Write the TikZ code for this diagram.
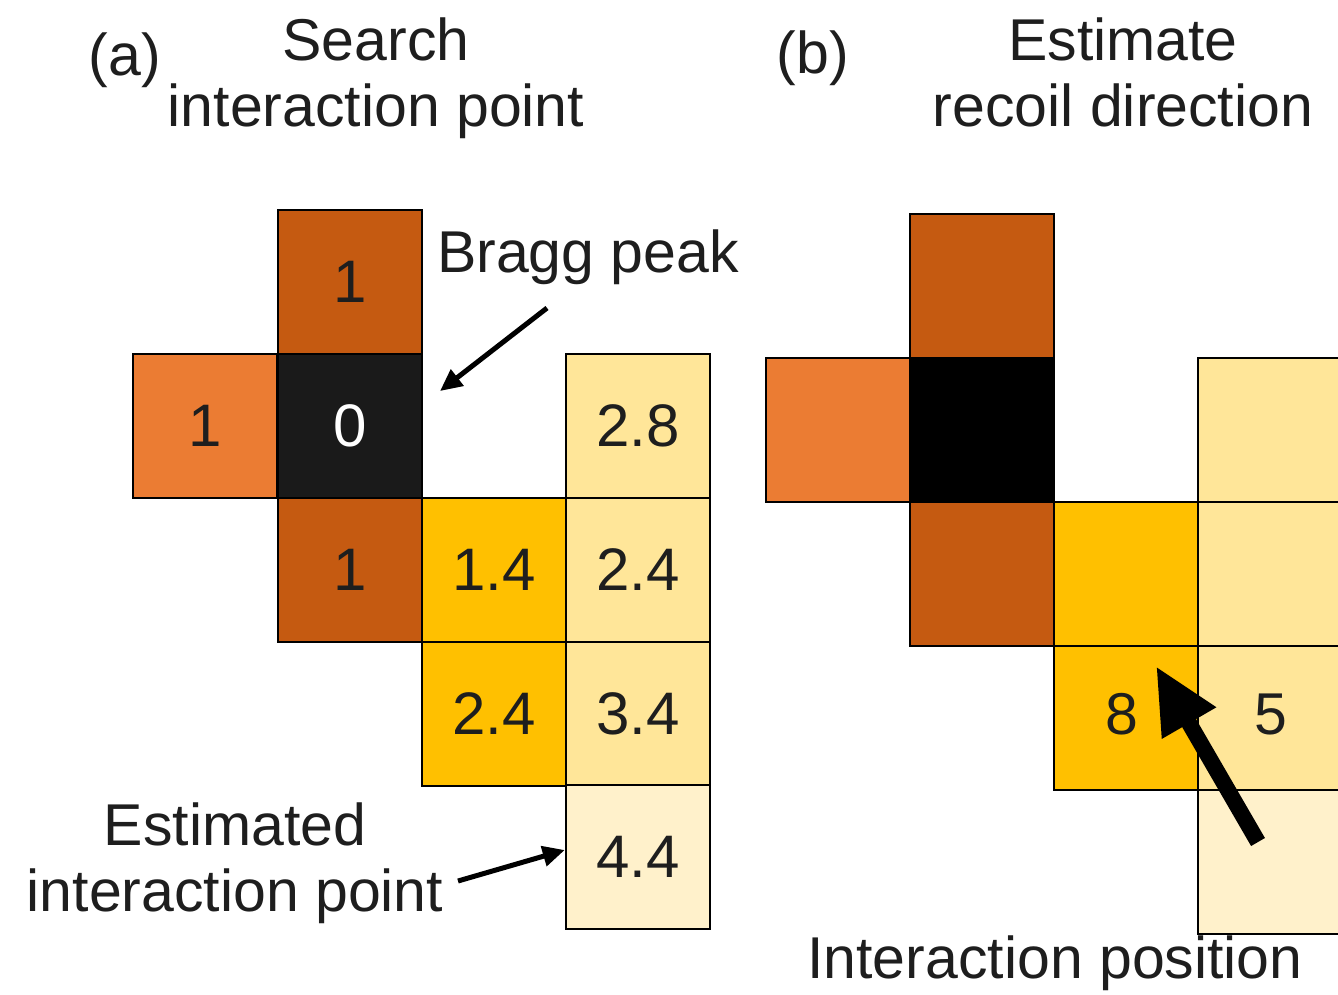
\documentclass[tikz,border=0pt]{standalone}
\usepackage{fontspec}
\setmainfont{Liberation Sans}
\usetikzlibrary{arrows.meta}
\definecolor{brownD}{HTML}{C55A11}
\definecolor{orangeC}{HTML}{EB7C33}
\definecolor{goldC}{HTML}{FFC000}
\definecolor{lightC}{HTML}{FFE699}
\definecolor{paleC}{HTML}{FFF1CB}
\definecolor{blackA}{HTML}{1A1A1A}
\definecolor{txt}{HTML}{1E1E1E}
\tikzset{
  cell/.style={draw=black, line width=2.5pt, minimum size=144pt, inner sep=0pt,
    text=txt, font=\fontsize{60}{66}\selectfont},
  lbl/.style={text=txt, font=\fontsize{59}{66}\selectfont, inner sep=0pt, anchor=base},
  thinarrow/.style={line width=5pt, draw=black, -{Triangle[length=22pt,width=20pt]}},
  bigarrow/.style={line width=16pt, draw=black, -{Triangle[length=66pt,width=58pt]}}
}
\begin{document}
\begin{tikzpicture}[x=1pt,y=-1pt]
\clip (0,0) rectangle (1338,994);
\fill[white] (0,0) rectangle (1338,994);
% ---------- panel (a) ----------
\node[lbl] (la) at (125,75) {(a)};
\node[lbl] (ta1) at (376,60) {Search};
\node[lbl] (ta2) at (376,126) {interaction point};
\node[cell, fill=brownD] (a01) at (350,282) {1};
\node[cell, fill=orangeC] (a10) at (205,426) {1};
\node[cell, fill=blackA, text=white] (a11) at (350,426) {0};
\node[cell, fill=lightC] (a13) at (638,426) {2.8};
\node[cell, fill=brownD] (a21) at (350,570) {1};
\node[cell, fill=goldC] (a22) at (494,570) {1.4};
\node[cell, fill=lightC] (a23) at (638,570) {2.4};
\node[cell, fill=goldC] (a32) at (494,714) {2.4};
\node[cell, fill=lightC] (a33) at (638,714) {3.4};
\node[cell, fill=paleC] (a43) at (638,857) {4.4};
\node[lbl] (bragg) at (588,272) {Bragg peak};
\coordinate (braggS) at (547,308);
\coordinate (braggT) at (440,391);
\draw[thinarrow] (braggS) -- (braggT);
\node[lbl] (est1) at (235,845) {Estimated};
\node[lbl] (est2) at (235,911) {interaction point};
\coordinate (estS) at (458,881);
\draw[thinarrow] (estS) -- (a43.west |- 0,850);
% ---------- panel (b) ----------
\node[lbl] (lb) at (813,73) {(b)};
\node[lbl] (tb1) at (1123,60) {Estimate};
\node[lbl] (tb2) at (1123,126) {recoil direction};
\node[cell, fill=brownD] (b01) at (982,286) {};
\node[cell, fill=orangeC] (b10) at (838,430) {};
\node[cell, fill=black] (b11) at (982,430) {};
\node[cell, fill=lightC] (b13) at (1270,430) {};
\node[cell, fill=brownD] (b21) at (982,574) {};
\node[cell, fill=goldC] (b22) at (1126,574) {};
\node[cell, fill=lightC] (b23) at (1270,574) {};
\node[cell, fill=goldC] (b32) at (1126,718) {};
\node[cell, fill=lightC] (b33) at (1270,718) {};
\node[cell, fill=paleC] (b43) at (1270,862) {};
\node[lbl] (n8) at (1122,734) {8};
\node[lbl] (n5) at (1271,734) {5};
\coordinate (recS) at (1258,842);
\coordinate (recT) at (1156,666);
\draw[bigarrow] (recS) -- (recT);
\node[lbl] (ipos) at (1055,978) {Interaction position};
\end{tikzpicture}
\end{document}
